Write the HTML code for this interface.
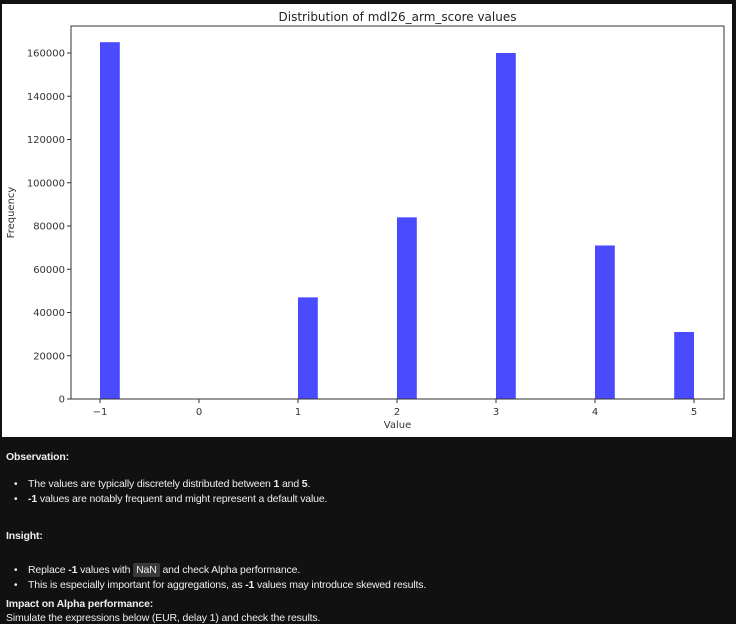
<!DOCTYPE html>
<html><head><meta charset="utf-8"><style>
body{margin:0;width:736px;height:622px;background:#111;overflow:hidden;font-family:"Liberation Sans",sans-serif}
#chart{position:absolute;left:2px;top:4px;width:730px;height:433px;background:#fff}
.txt{position:absolute;left:6px;color:#eee;font-size:10.5px;letter-spacing:-0.15px;white-space:nowrap}
.b{font-weight:bold}
.li{left:28px}
.dot{position:absolute;left:14px;color:#eee;font-size:10px}
code{background:#3a3a3a;padding:1px 3px;border-radius:2px;font-family:"Liberation Sans",sans-serif}
</style></head><body>
<div id="chart">
<svg id="svg" width="730" height="433"></svg>
</div>
<div class="txt b" style="top:451px">Observation:</div>
<div class="dot" style="top:479px">•</div>
<div class="txt li" style="top:478px">The values are typically discretely distributed between <b>1</b> and <b>5</b>.</div>
<div class="dot" style="top:494px">•</div>
<div class="txt li" style="top:493px"><b>-1</b> values are notably frequent and might represent a default value.</div>
<div class="txt b" style="top:530px">Insight:</div>
<div class="dot" style="top:565px">•</div>
<div class="txt li" style="top:564px">Replace <b>-1</b> values with <code>NaN</code> and check Alpha performance.</div>
<div class="dot" style="top:580px">•</div>
<div class="txt li" style="top:579px">This is especially important for aggregations, as <b>-1</b> values may introduce skewed results.</div>
<div class="txt b" style="top:598px">Impact on Alpha performance:</div>
<div class="txt" style="top:612px">Simulate the expressions below (EUR, delay 1) and check the results.</div>
<script>
const binStarts=[-1,1,2,3,4,4.8];
const counts=[165000,47000,84000,160000,71000,31000];
const binWidth=0.2;
const xTicks=[-1,0,1,2,3,4,5];
const xTickLabels=["−1","0","1","2","3","4","5"];
const yTicks=[0,20000,40000,60000,80000,100000,120000,140000,160000];
const NS="http://www.w3.org/2000/svg";
const svg=document.getElementById('svg');
const L=69,R=722,T=22,B=395;
const X=v=>98+(v+1)*99;
const Y=v=>B-v*346/160000;
function mk(t,a){const e=document.createElementNS(NS,t);for(const k in a)e.setAttribute(k,a[k]);svg.appendChild(e);return e;}
binStarts.forEach((s,i)=>{
 const r=mk('rect',{x:X(s),y:Y(counts[i]),width:X(s+binWidth)-X(s),height:B-Y(counts[i]),fill:'#4a4aff'});
 
 
});
const fr=mk('rect',{x:L,y:T,width:R-L,height:B-T,fill:'none',stroke:'#333','stroke-width':1});


xTicks.forEach((v,i)=>{
 mk('line',{x1:X(v),x2:X(v),y1:B,y2:B+4,stroke:'#333'});
 const t=mk('text',{x:X(v),y:B+16,'text-anchor':'middle','font-size':10,fill:'#333','font-family':'DejaVu Sans, sans-serif'});
 t.textContent=xTickLabels[i];
 
 
});
yTicks.forEach(v=>{
 mk('line',{x1:L-4,x2:L,y1:Y(v),y2:Y(v),stroke:'#333'});
 const t=mk('text',{x:L-6,y:Y(v)+3.5,'text-anchor':'end','font-size':10,fill:'#333','font-family':'DejaVu Sans, sans-serif'});
 t.textContent=v;
 
 
});
const xt=mk('text',{x:(L+R)/2,y:B+29,'text-anchor':'middle','font-size':10,fill:'#333','font-family':'DejaVu Sans, sans-serif'});
xt.textContent='Value';


const yt=mk('text',{x:12,y:(T+B)/2,'text-anchor':'middle','font-size':10,fill:'#333','font-family':'DejaVu Sans, sans-serif',transform:`rotate(-90 12 ${(T+B)/2})`});
yt.textContent='Frequency';


const tt=mk('text',{x:(L+R)/2,y:T-5,'text-anchor':'middle','font-size':12,fill:'#222','font-family':'DejaVu Sans, sans-serif'});
tt.textContent='Distribution of mdl26_arm_score values';


</script>
</body></html>
